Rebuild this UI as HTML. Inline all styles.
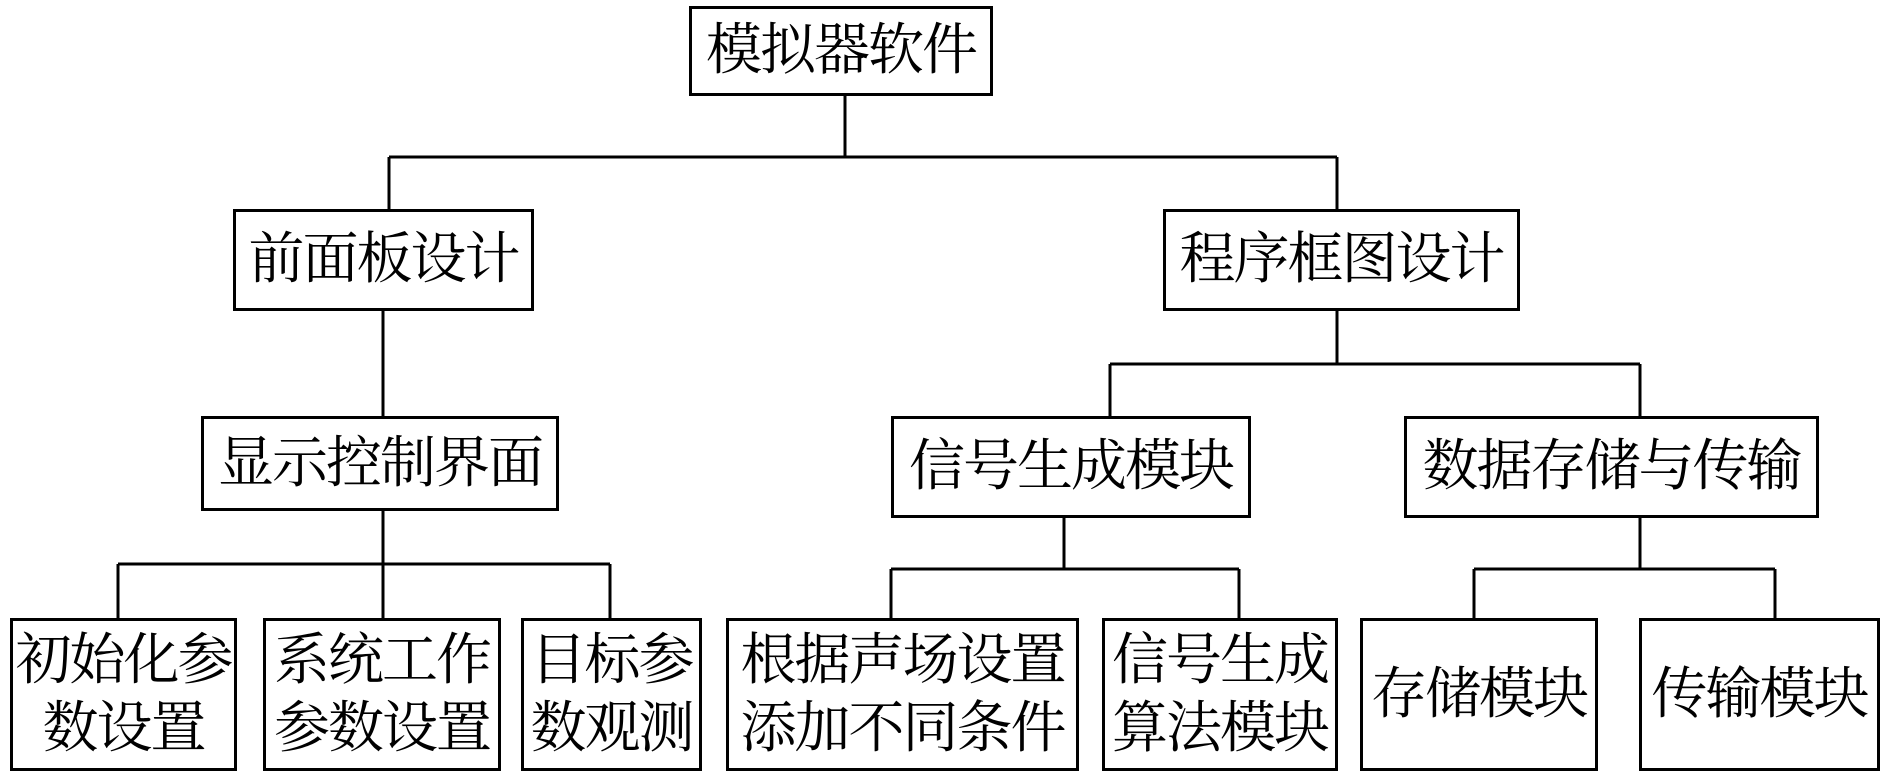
<!DOCTYPE html>
<html><head><meta charset="utf-8"><style>
body{margin:0;width:1890px;height:780px;background:#fff;position:relative;overflow:hidden;font-family:"Liberation Serif","Noto Serif CJK SC",serif;}
.b{position:absolute;box-sizing:border-box;border:3px solid #000;display:flex;align-items:center;justify-content:center;text-align:center;font-size:56px;line-height:68px;color:#000;white-space:nowrap;letter-spacing:-2px;}
svg{position:absolute;left:0;top:0}
</style></head><body>
<svg width="1890" height="780"><g stroke="#000" stroke-width="3" fill="none">
<path d="M845 96V157M389 157H1337M389 157V209M1337 157V209"/>
<path d="M383 311V416"/>
<path d="M1337 311V364M1110 364H1640M1110 364V416M1640 364V416"/>
<path d="M383 511V564M118 564H610M118 564V618M383 564V618M610 564V618"/>
<path d="M1064 518V569M891 569H1239M891 569V618M1239 569V618"/>
<path d="M1640 518V569M1474 569H1775M1474 569V618M1775 569V618"/>
</g></svg>
<div class="b" style="left:689px;top:6px;width:304px;height:90px">模拟器软件</div>
<div class="b" style="left:233px;top:209px;width:301px;height:102px">前面板设计</div>
<div class="b" style="left:1163px;top:209px;width:357px;height:102px">程序框图设计</div>
<div class="b" style="left:201px;top:416px;width:358px;height:95px">显示控制界面</div>
<div class="b" style="left:891px;top:416px;width:360px;height:102px">信号生成模块</div>
<div class="b" style="left:1404px;top:416px;width:415px;height:102px">数据存储与传输</div>
<div class="b" style="left:10px;top:618px;width:227px;height:153px">初始化参<br>数设置</div>
<div class="b" style="left:263px;top:618px;width:238px;height:153px">系统工作<br>参数设置</div>
<div class="b" style="left:521px;top:618px;width:181px;height:153px">目标参<br>数观测</div>
<div class="b" style="left:726px;top:618px;width:353px;height:153px">根据声场设置<br>添加不同条件</div>
<div class="b" style="left:1102px;top:618px;width:236px;height:153px">信号生成<br>算法模块</div>
<div class="b" style="left:1360px;top:618px;width:238px;height:153px">存储模块</div>
<div class="b" style="left:1639px;top:618px;width:241px;height:153px">传输模块</div>
</body></html>
